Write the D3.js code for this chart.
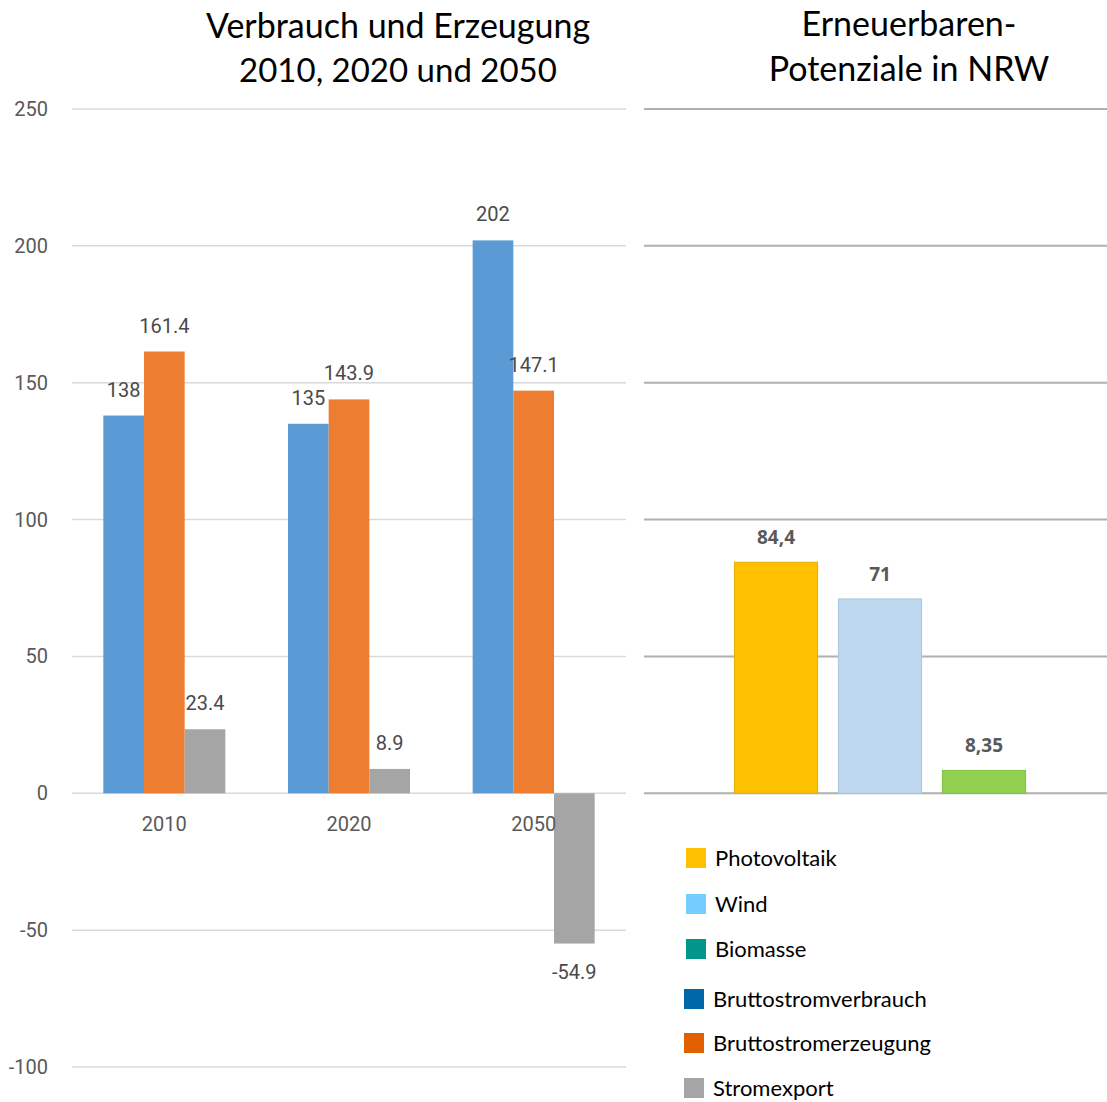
<!DOCTYPE html>
<html><head><meta charset="utf-8">
<script src="https://cdn.jsdelivr.net/npm/d3@7"></script>
<style>body{margin:0;background:#fff}</style>
</head><body>
<svg id="c" width="1107" height="1102"></svg>
<script>
const years = ["2010", "2020", "2050"];
const series = ["Bruttostromverbrauch", "Bruttostromerzeugung", "Stromexport"];
const verbrauch = [138, 135, 202];
const erzeugung = [161.4, 143.9, 147.1];
const export_ = [23.4, 8.9, -54.9];
const leftTicks = [250, 200, 150, 100, 50, 0, -50, -100];
const potCats = ["Photovoltaik", "Wind", "Biomasse"];
const potValues = [84.4, 71, 8.35];
const potLabels = ["84,4", "71", "8,35"];
const rightGrid = [250, 200, 150, 100, 50, 0];
const legendItems = ["Photovoltaik", "Wind", "Biomasse", "Bruttostromverbrauch", "Bruttostromerzeugung", "Stromexport"];
const legendColors = ["#FFC000", "#75CDFF", "#00968A", "#0068A6", "#E06000", "#A5A5A5"];
const barColors = ["#5B9BD5", "#ED7D31", "#A5A5A5"];
const potColors = ["#FFC000", "#BDD7EE", "#92D050"];
const potStroke = ["#E6AD00", "#A9C6DF", "#7FBF45"];

const svg = d3.select("#c");
const y = d3.scaleLinear().domain([-100, 250]).range([1067, 109]);
const titleFont = "Lato, 'Open Sans', sans-serif";

// Left gridlines & ticks
const gl = svg.append("g");
gl.selectAll("line").data(leftTicks).join("line")
  .attr("x1", 72).attr("x2", 626)
  .attr("y1", d => y(d)).attr("y2", d => y(d))
  .attr("stroke", "#d9d9d9").attr("stroke-width", 1.5);
gl.selectAll("text").data(leftTicks).join("text")
  .attr("x", 48).attr("y", d => y(d)).attr("dy", "0.35em")
  .attr("text-anchor", "end").attr("font-family", "Roboto").attr("font-size", 20)
  .attr("fill", "#595959").text(d => d);

// Left bars
const x0 = d3.scaleBand().domain(years).range([72, 626]).padding(0);
const x1 = d3.scaleBand().domain(series).range([0, x0.bandwidth()]).paddingInner(0).paddingOuter(0.77);
const rows = years.map((yr, i) => ({yr, vals: [verbrauch[i], erzeugung[i], export_[i]]}));
const grp = svg.append("g").selectAll("g").data(rows).join("g")
  .attr("transform", d => `translate(${x0(d.yr)},0)`);
grp.selectAll("rect").data(d => d.vals.map((v, j) => ({v, s: series[j], j}))).join("rect")
  .attr("x", d => x1(d.s)).attr("width", x1.bandwidth())
  .attr("y", d => y(Math.max(0, d.v))).attr("height", d => Math.abs(y(d.v) - y(0)))
  .attr("fill", d => barColors[d.j]);
grp.selectAll("text").data(d => d.vals.map((v, j) => ({v, s: series[j], j}))).join("text")
  .attr("x", d => x1(d.s) + x1.bandwidth() / 2)
  .attr("y", d => d.v >= 0 ? y(d.v) - 26 : y(d.v) + 28).attr("dy", "0.35em")
  .attr("text-anchor", "middle").attr("font-family", "Roboto").attr("font-size", 20)
  .attr("fill", "#4a4a4a").text(d => d.v);
svg.append("g").selectAll("text").data(years).join("text")
  .attr("x", d => x0(d) + x0.bandwidth() / 2).attr("y", 824).attr("dy", "0.35em")
  .attr("text-anchor", "middle").attr("font-family", "Roboto").attr("font-size", 20)
  .attr("fill", "#595959").text(d => d);

// Right gridlines
svg.append("g").selectAll("line").data(rightGrid).join("line")
  .attr("x1", 644).attr("x2", 1107)
  .attr("y1", d => y(d)).attr("y2", d => y(d))
  .attr("stroke", "#b0b0b0").attr("stroke-width", 2);

// Right bars
const xr = d3.scaleBand().domain(potCats).range([724, 1036]).paddingInner(0.2).paddingOuter(0.1);
svg.append("g").selectAll("rect").data(potCats).join("rect")
  .attr("x", d => xr(d)).attr("width", xr.bandwidth())
  .attr("y", (d, i) => y(potValues[i])).attr("height", (d, i) => y(0) - y(potValues[i]))
  .attr("fill", (d, i) => potColors[i]).attr("stroke", (d, i) => potStroke[i]).attr("stroke-width", 1);
svg.append("g").selectAll("text").data(potCats).join("text")
  .attr("x", d => xr(d) + xr.bandwidth() / 2).attr("y", (d, i) => y(potValues[i]) - 25).attr("dy", "0.35em")
  .attr("text-anchor", "middle").attr("font-family", "'Open Sans'").attr("font-weight", "bold").attr("font-size", 19)
  .attr("fill", "#595959").text((d, i) => potLabels[i]);

// Titles
const t1 = svg.append("text").attr("text-anchor", "middle").attr("font-family", titleFont).attr("font-size", 34).attr("fill", "#000");
t1.append("tspan").attr("x", 398).attr("y", 38).text("Verbrauch und Erzeugung");
t1.append("tspan").attr("x", 398).attr("y", 82).attr("font-size", 33).text("2010, 2020 und 2050");
const t2 = svg.append("text").attr("text-anchor", "middle").attr("font-family", titleFont).attr("font-size", 34).attr("fill", "#000");
t2.append("tspan").attr("x", 909).attr("y", 36).text("Erneuerbaren-");
t2.append("tspan").attr("x", 909).attr("y", 81).text("Potenziale in NRW");

// Legend
const legY = [858, 904, 949, 999, 1043, 1088];
const legX = [686, 686, 686, 684, 684, 684];
const lg = svg.append("g").selectAll("g").data(legendItems).join("g")
  .attr("transform", (d, i) => `translate(${legX[i]},${legY[i]})`);
lg.append("rect").attr("x", 0).attr("y", -10).attr("width", 20).attr("height", 20)
  .attr("fill", (d, i) => legendColors[i]);
lg.append("text").attr("x", 29).attr("y", 0).attr("dy", "0.35em")
  .attr("font-family", titleFont).attr("font-size", 22).attr("fill", "#000").text(d => d);
</script>
</body></html>
